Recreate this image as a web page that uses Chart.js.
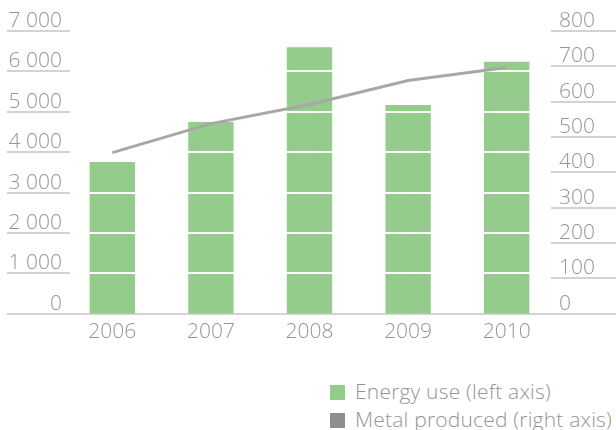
<!DOCTYPE html>
<html>
<head>
<meta charset="utf-8">
<script src="https://cdn.jsdelivr.net/npm/chart.js@4/dist/chart.umd.min.js"></script>
<style>
    html, body { margin: 0; padding: 0; background: #fff; }
    #wrap { position: relative; width: 616px; height: 430px; }
    #energyChart { position: absolute; left: 0; top: 0; }
    .legend { position: absolute; left: 330px; top: 377px; font-family: "Open Sans", sans-serif; font-weight: 300; font-size: 21px; letter-spacing: 0.2px; color: #959595; }
    .legend div { height: 28px; line-height: 28px; white-space: nowrap; }
    .legend span { display: inline-block; width: 15px; height: 15px; margin-right: 10px; vertical-align: -1px; }
</style>
</head>
<body>
<div id="wrap">
    <canvas id="energyChart" width="616" height="351"></canvas>
    <div class="legend" id="legend"></div>
</div>
<script>
const years = ['2006', '2007', '2008', '2009', '2010'];
const energyUse = [3760, 4750, 6600, 5170, 6240];
const metalProduced = [456, 538, 592, 660, 697];
const leftTicks = [0, 1000, 2000, 3000, 4000, 5000, 6000, 7000];
const rightTicks = [0, 100, 200, 300, 400, 500, 600, 700, 800];
const seriesNames = ['Energy use (left axis)', 'Metal produced (right axis)'];

const green = '#93cc8b';
const lineGrey = '#a6a9a3';
const legendGrey = '#8e8e8e';
const textGrey = '#959595';
const ruleGrey = '#d3d3d3';

const fmt = v => String(v).replace(/\B(?=(\d{3})+(?!\d))/g, ' ');

// short grey rules under the tick labels, white rules across the bars
const rules = {
    id: 'rules',
    beforeDatasetsDraw(chart) {
        const { ctx, scales } = chart;
        ctx.save();
        ctx.lineWidth = 2;
        ctx.strokeStyle = ruleGrey;
        leftTicks.forEach(v => {
            const y = Math.round(scales.y.getPixelForValue(v));
            ctx.beginPath();
            ctx.moveTo(7, y);
            ctx.lineTo(v === 0 ? 616 : 70, y);
            ctx.stroke();
        });
        rightTicks.forEach(v => {
            const y = Math.round(scales.y2.getPixelForValue(v));
            ctx.beginPath();
            ctx.moveTo(551, y);
            ctx.lineTo(616, y);
            ctx.stroke();
        });
        ctx.restore();
    },
    afterDatasetDraw(chart, args) {
        if (args.index !== 0) return;
        const { ctx, scales } = chart;
        ctx.save();
        ctx.lineWidth = 2;
        ctx.strokeStyle = '#ffffff';
        leftTicks.slice(1).forEach(v => {
            const y = Math.round(scales.y.getPixelForValue(v));
            ctx.beginPath();
            ctx.moveTo(70, y);
            ctx.lineTo(551, y);
            ctx.stroke();
        });
        ctx.restore();
    }
};

const tickFont = { family: 'Open Sans', weight: 300, size: 21 };

new Chart(document.getElementById('energyChart'), {
    type: 'bar',
    data: {
        labels: years,
        datasets: [
            {
                label: seriesNames[0],
                data: energyUse,
                backgroundColor: green,
                yAxisID: 'y',
                categoryPercentage: 1,
                barPercentage: 0.46,
                order: 2
            },
            {
                type: 'line',
                label: seriesNames[1],
                data: metalProduced,
                borderColor: lineGrey,
                backgroundColor: legendGrey,
                borderWidth: 3,
                pointRadius: 0,
                tension: 0,
                yAxisID: 'y2',
                order: 1
            }
        ]
    },
    plugins: [rules],
    options: {
        responsive: false,
        animation: false,
        layout: { padding: { top: 31, bottom: 0, left: 0, right: 0 } },
        plugins: { legend: { display: false }, tooltip: { enabled: false } },
        scales: {
            x: {
                grid: { display: false, drawTicks: false },
                border: { display: false },
                ticks: { color: textGrey, padding: 6, font: tickFont }
            },
            y: {
                position: 'left',
                min: 0,
                max: 7000,
                afterFit: s => { s.width = 63; },
                afterBuildTicks: s => { s.ticks = leftTicks.map(v => ({ value: v })); },
                grid: { display: false, drawTicks: false },
                border: { display: false },
                ticks: {
                    color: textGrey,
                    padding: 1,
                    labelOffset: -10,
                    callback: v => fmt(v),
                    font: tickFont
                }
            },
            y2: {
                position: 'right',
                min: 0,
                max: 800,
                afterFit: s => { s.width = 60; },
                afterBuildTicks: s => { s.ticks = rightTicks.map(v => ({ value: v })); },
                grid: { display: false, drawTicks: false },
                border: { display: false },
                ticks: {
                    color: textGrey,
                    padding: 3,
                    labelOffset: -10,
                    font: tickFont
                }
            }
        }
    }
});

const legend = document.getElementById('legend');
[green, legendGrey].forEach((c, i) => {
    const row = document.createElement('div');
    const box = document.createElement('span');
    box.style.background = c;
    row.appendChild(box);
    row.appendChild(document.createTextNode(seriesNames[i]));
    legend.appendChild(row);
});
</script>
</body>
</html>
